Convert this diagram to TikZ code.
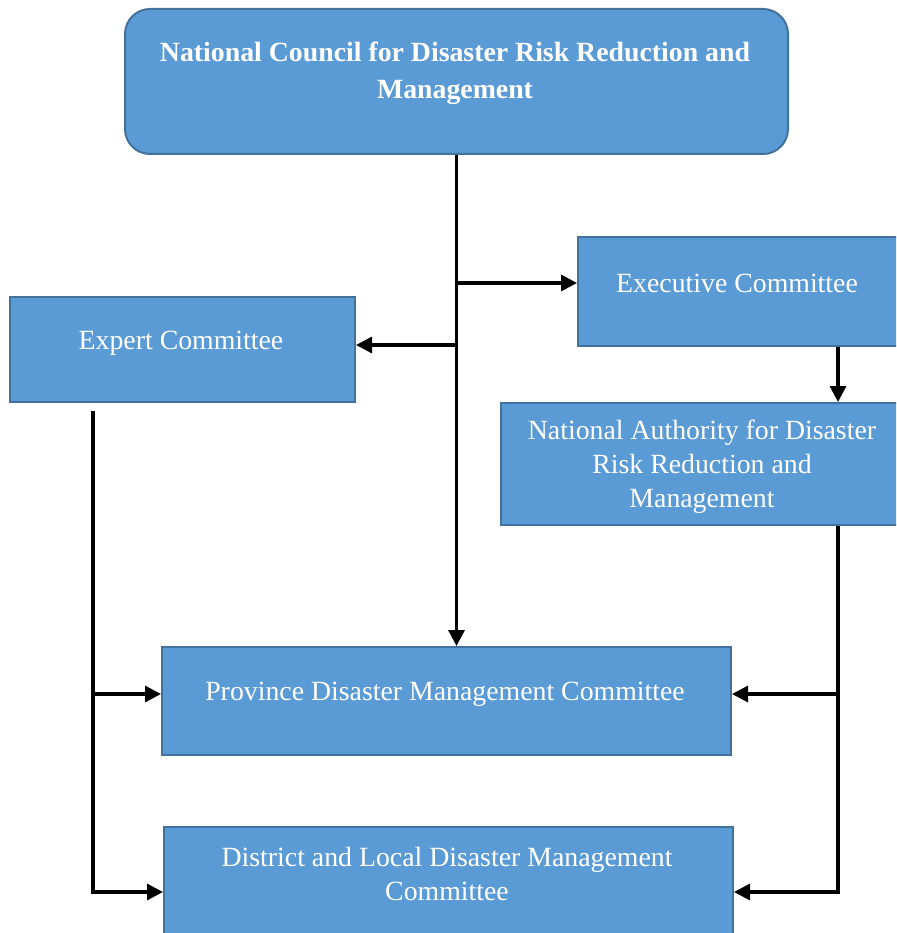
\documentclass[tikz,border=0pt]{standalone}
\usepackage{fontspec}
\setmainfont{Liberation Serif}
\usetikzlibrary{arrows.meta}
\definecolor{boxfill}{HTML}{5B9BD5}
\definecolor{boxline}{HTML}{41719C}
\begin{document}
\begin{tikzpicture}[x=1pt,y=-1pt,>={Triangle[length=16pt,width=16pt]},
	box/.style={draw=boxline,fill=boxfill,line width=2pt,anchor=north west,inner sep=0pt},
	txt/.style={text=white,align=center,font=\fontsize{27.8}{34}\selectfont},
	link/.style={line width=3.2pt,->}]
	\useasboundingbox (0,0) rectangle (896,933);
	\clip (0,0) rectangle (896,933);
	% Boxes
	\node[box,rounded corners=25pt,minimum width=663pt,minimum height=145pt] (council) at (124,8) {};
	\node[box,minimum width=340pt,minimum height=109pt] (exec) at (577,236) {};
	\node[box,minimum width=345pt,minimum height=105pt] (expert) at (9,296) {};
	\node[box,minimum width=410pt,minimum height=122pt] (authority) at (500,402) {};
	\node[box,minimum width=569pt,minimum height=108pt] (province) at (161,646) {};
	\node[box,minimum width=569pt,minimum height=130pt] (district) at (163,826) {};
	% Texts
	\node[txt,font=\bfseries\fontsize{27.8}{37}\selectfont] (councilT) at (455,73) {National Council for Disaster Risk Reduction and\\Management};
	\node[txt] (execT) at (737,283) {Executive Committee};
	\node[txt] (expertT) at (181,343) {Expert Committee};
	\node[txt] (authorityT) at (702,467) {National Authority for Disaster\\Risk Reduction and\\Management};
	\node[txt] (provinceT) at (445,694) {Province Disaster Management Committee};
	\node[txt] (districtT) at (447,874) {District and Local Disaster Management\\Committee};
	% Junctions
	\coordinate (tExec) at (455,283);
	\coordinate (tExpert) at (455,345);
	\coordinate (rTop) at (838,345);
	\coordinate (rMid) at (838,694);
	\coordinate (lTop) at (93,411);
	\coordinate (lMid) at (93,694);
	% Connectors
	\draw[link] (council.south) -- (council.south |- province.north);
	\draw[link] (tExec) -- (tExec -| exec.west);
	\draw[link] (tExpert) -- (tExpert -| expert.east);
	\draw[link] (rTop |- exec.south) -- (rTop |- authority.north);
	\draw[link] (rTop |- authority.south) |- (district.east);
	\draw[link] (rMid) -- (rMid -| province.east);
	\draw[link] (lTop) |- (district.west);
	\draw[link] (lMid) -- (lMid -| province.west);
\end{tikzpicture}
\end{document}
